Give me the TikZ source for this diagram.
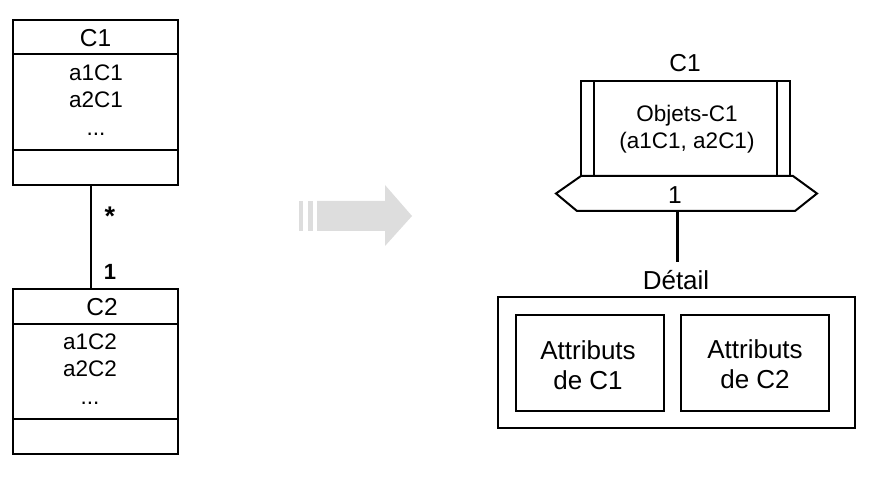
\documentclass[tikz,border=0pt]{standalone}
\usepackage{fontspec}
\setmainfont{Liberation Sans}
\definecolor{arrowgray}{HTML}{DDDDDD}
\begin{document}
\begin{tikzpicture}[x=1pt,y=-1pt,
  box/.style={draw=black,line width=2pt},
  thick box/.style={draw=black,line width=2.6pt},
  lbl/.style={inner sep=0pt,anchor=center},
  title/.style={lbl,font=\fontsize{24.5}{28}\selectfont},
  attr/.style={lbl,font=\fontsize{22.5}{27.5}\selectfont,align=center},
  big/.style={lbl,font=\fontsize{26}{30}\selectfont,align=center},
  mult/.style={lbl,font=\fontsize{22}{24}\selectfont\bfseries}]
\useasboundingbox (0,0) rectangle (883,478);
% ---------- left UML classes
\draw[box] (13,20) rectangle (178,185);
\draw[box] (13,54) -- (178,54);
\draw[box] (13,150) -- (178,150);
\node[title] (c1t) at (95.5,38) {C1};
\node[attr] (c1a) at (96,100) {a1C1\\a2C1\\...};
\coordinate (c1b) at (91,185);
\draw[box] (13,289) rectangle (178,454);
\draw[box] (13,324) -- (178,324);
\draw[box] (13,419) -- (178,419);
\node[title] (c2t) at (102,307) {C2};
\node[attr] (c2a) at (90,369) {a1C2\\a2C2\\...};
\coordinate (c2t0) at (91,289);
\draw[line width=2pt] (c1b) -- (c2t0);
\node[mult,font=\fontsize{27}{28}\selectfont\bfseries] (star) at (110,216) {*};
\node[mult] (one) at (110,272) {1};
% ---------- gray arrow
\fill[arrowgray] (299,201) rectangle (303,231);
\fill[arrowgray] (308,201) rectangle (313,231);
\fill[arrowgray] (317,201) -- (385,201) -- (385,185) -- (412,216) -- (385,246) -- (385,231) -- (317,231) -- cycle;
% ---------- right side
\node[title] (rc1) at (685,63) {C1};
\draw[box] (581,81) rectangle (790,176);
\draw[box] (594,81) -- (594,176);
\draw[box] (777,81) -- (777,176);
\node[attr] (obj) at (687,129) {Objets-C1\\(a1C1, a2C1)};
\draw[box,line join=miter] (581,176) -- (793,176) -- (817,193.5) -- (795,211) -- (577,211) -- (556,193.5) -- cycle;
\node[title] (hone) at (675,195) {1};
\coordinate (hb) at (677,211);
\coordinate (dt) at (677,262);
\draw[line width=3pt] (hb) -- (dt);
\node[big] (det) at (676,280) {Détail};
\draw[thick box] (498,297) rectangle (855,428);
\draw[thick box] (516,315) rectangle (664,411);
\draw[thick box] (681,315) rectangle (829,411);
\node[big] (a1) at (588,365) {Attributs\\de C1};
\node[big] (a2) at (755,364) {Attributs\\de C2};
\end{tikzpicture}
\end{document}
